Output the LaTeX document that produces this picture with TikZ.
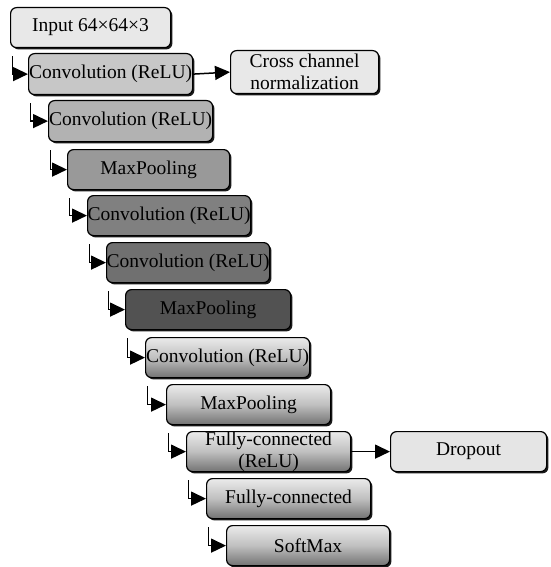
\documentclass[tikz,border=0pt]{standalone}
\usepackage{fontspec}
\setmainfont{Liberation Serif}
\usetikzlibrary{arrows.meta,shadows,backgrounds,positioning}
\begin{document}
\begin{tikzpicture}[x=1pt,y=-1pt,
  box/.style={draw=black,line width=1.2pt,rounded corners=6pt,anchor=north west,
    inner sep=0pt,align=center,font=\fontsize{19.5}{22}\selectfont,
    drop shadow={shadow xshift=1.8pt,shadow yshift=-1.8pt,fill=black,opacity=0.9}},
  grad/.style={top color=black!8,bottom color=black!55,middle color=black!25},
  conn/.style={line width=1.5pt,-{Triangle[length=15pt,width=14pt]}}]
\useasboundingbox (0,0) rectangle (550,567);
\node[box,fill=black!9,minimum width=160pt,minimum height=40pt] (n1) at (10,7) {Input 64×64×3};
\node[box,fill=black!22,minimum width=164pt,minimum height=41pt] (n2) at (28,53) {Convolution (ReLU)};
\node[box,fill=black!9,minimum width=148pt,minimum height=43pt] (cc) at (230,50) {Cross channel\\normalization};
\node[box,fill=black!30,minimum width=164pt,minimum height=41pt] (n3) at (48,100) {Convolution (ReLU)};
\node[box,fill=black!40,minimum width=162pt,minimum height=40pt] (n4) at (67,149) {MaxPooling};
\node[box,fill=black!50,minimum width=161pt,minimum height=40pt] (n5) at (87,195) {Convolution (ReLU)};
\node[box,fill=black!56,minimum width=161pt,minimum height=40pt] (n6) at (106,242) {Convolution (ReLU)};
\node[box,fill=black!68,minimum width=165pt,minimum height=40pt] (n7) at (125,289) {MaxPooling};
\node[box,grad,minimum width=164pt,minimum height=40pt] (n8) at (145,337) {Convolution (ReLU)};
\node[box,grad,minimum width=164pt,minimum height=40pt] (n9) at (166,384) {MaxPooling};
\node[box,grad,minimum width=164pt,minimum height=40pt] (n10) at (186,431) {Fully-connected\\(ReLU)};
\node[box,fill=black!10,minimum width=156pt,minimum height=40pt] (dr) at (390,431) {Dropout};
\node[box,grad,minimum width=164pt,minimum height=40pt] (n11) at (206,478) {Fully-connected};
\node[box,grad,minimum width=163pt,minimum height=40pt] (n12) at (226,525) {SoftMax};
\begin{pgfonlayer}{background}
\foreach \a/\b in {n1/n2,n2/n3,n3/n4,n4/n5,n5/n6,n6/n7,n7/n8,n8/n9,n9/n10,n10/n11,n11/n12}{
  \draw[conn] ([xshift=2.5pt,yshift=-8pt]\a.south west) |- (\b.west);
}
\end{pgfonlayer}
\draw[conn] (n2.east) -- (cc.west);
\draw[conn] (n10.east) -- (dr.west);
\end{tikzpicture}
\end{document}
